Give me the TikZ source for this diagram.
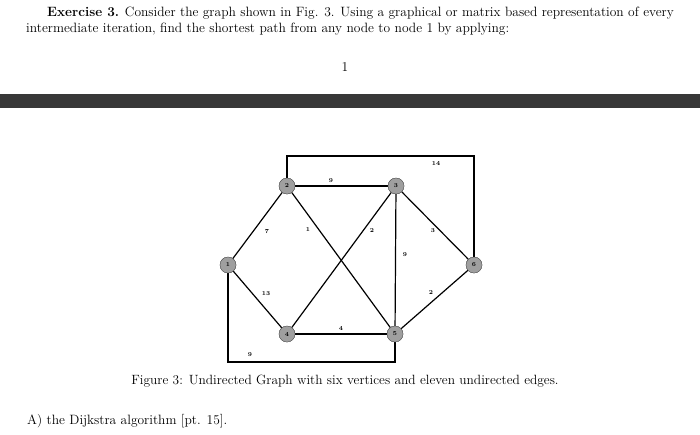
\documentclass[tikz,border=0pt]{standalone}
\begin{document}
\begin{tikzpicture}[x=1pt,y=-1pt,
  vtx/.style={circle,fill=gray!75,draw=gray!60!black,line width=0.3pt,minimum size=16pt,inner sep=0pt,font=\fontsize{6}{6}\selectfont\bfseries},
  edge/.style={line width=1.2pt},
  wt/.style={font=\fontsize{6}{6}\selectfont\bfseries,inner sep=0pt},
  txt/.style={font=\fontsize{13.5}{17}\selectfont,inner sep=0pt,anchor=west}]
\useasboundingbox (0,0) rectangle (700,434);
\node[txt] (l1) at (47,13) {\textbf{Exercise 3.} Consider the graph shown in Fig. 3. Using a graphical or matrix based representation of every};
\node[txt] (l2) at (26,29) {intermediate iteration, find the shortest path from any node to node 1 by applying:};
\node[font=\fontsize{13.5}{17}\selectfont,inner sep=0pt] (pg) at (345,67) {1};
\fill[black!78] (0,94) rectangle (700,108);
\node[vtx] (n1) at (228,265) {1};
\node[vtx] (n2) at (287,186) {2};
\node[vtx] (n3) at (396,186) {3};
\node[vtx] (n4) at (287,334) {4};
\node[vtx] (n5) at (395,334) {5};
\node[vtx] (n6) at (474,265) {6};
\coordinate (t2) at (287,156);
\coordinate (t6) at (474,156);
\coordinate (b1) at (228,362);
\coordinate (b5) at (395,362);
\draw[edge] (n2) -- (t2) -- (t6) -- (n6);
\draw[edge] (n1) -- (b1) -- (b5) -- (n5);
\draw[edge] (n1) -- (n2);
\draw[edge] (n1) -- (n4);
\draw[edge] (n2) -- (n3);
\draw[edge] (n2) -- (n5);
\draw[edge] (n3) -- (n4);
\draw[edge] (n3) -- (n5);
\draw[edge] (n3) -- (n6);
\draw[edge] (n4) -- (n5);
\draw[edge] (n5) -- (n6);
\node[vtx] at (n1) {1};
\node[vtx] at (n2) {2};
\node[vtx] at (n3) {3};
\node[vtx] at (n4) {4};
\node[vtx] at (n5) {5};
\node[vtx] at (n6) {6};
\node[wt] (w14) at (436,164) {14};
\node[wt] (w9a) at (331,181) {9};
\node[wt] (w7) at (267,232) {7};
\node[wt] (w1) at (308,230) {1};
\node[wt] (w2) at (372,231) {2};
\node[wt] (w3) at (433,231) {3};
\node[wt] (w9b) at (405,255) {9};
\node[wt] (w13) at (266,294) {13};
\node[wt] (w2b) at (431,293) {2};
\node[wt] (w4) at (341,328) {4};
\node[wt] (w9c) at (250,355) {9};
\node[font=\fontsize{13.4}{15}\selectfont,inner sep=0pt] (cap) at (345,381) {Figure 3: Undirected Graph with six vertices and eleven undirected edges.};
\node[txt] (a) at (27,421) {A) the Dijkstra algorithm [pt. 15].};
\end{tikzpicture}
\end{document}
